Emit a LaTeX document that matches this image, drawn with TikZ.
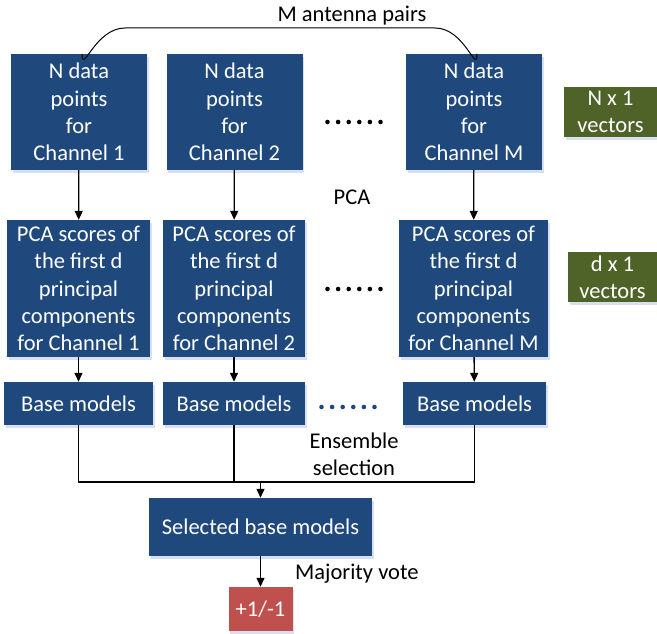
\documentclass[tikz,border=0pt]{standalone}
\usepackage{fontspec}
\setmainfont{Carlito}
\usepackage{tikz}
\usetikzlibrary{arrows.meta,shadows}
\newdimen\unitsize
\setlength{\unitsize}{1pt}
\definecolor{boxblue}{RGB}{31,73,125}
\definecolor{boxgreen}{RGB}{79,98,40}
\definecolor{boxred}{RGB}{192,80,77}
\definecolor{glow}{RGB}{214,224,240}

\begin{document}
\begin{tikzpicture}[x=\unitsize,y=-\unitsize]
\tikzset{block/.style={fill=boxblue, text=white, align=center, inner sep=0pt,
  font=\fontsize{22.5}{27.4}\selectfont,
  drop shadow={shadow xshift=1.5pt, shadow yshift=-3pt, fill=glow, opacity=1}}}%
\tikzset{tag/.style={block, fill=boxgreen}}%
\tikzset{label/.style={inner sep=0pt, align=center, font=\fontsize{22.5}{27.4}\selectfont}}%
\tikzset{flow/.style={-{Triangle[length=9pt,width=8pt]}, line width=1.3pt}}%
\useasboundingbox (0,0) rectangle (657,634);
% data points
\node[block, minimum width=136, minimum height=116] (d1) at (79,112) {N data\\points\\for\\Channel 1};
\node[block, minimum width=136, minimum height=116] (d2) at (234.5,112) {N data\\points\\for\\Channel 2};
\node[block, minimum width=136, minimum height=116] (dM) at (474,112) {N data\\points\\for\\Channel M};
\node[tag, minimum width=93, minimum height=50] (n1) at (610.5,112) {N x 1\\vectors};
% PCA scores
\node[block, minimum width=143, minimum height=137] (p1) at (78.5,288.5) {PCA scores of\\the first d\\principal\\components\\for Channel 1};
\node[block, minimum width=142, minimum height=137] (p2) at (234,288.5) {PCA scores of\\the first d\\principal\\components\\for Channel 2};
\node[block, minimum width=149, minimum height=137] (pM) at (473.5,288.5) {PCA scores of\\the first d\\principal\\components\\for Channel M};
\node[tag, minimum width=89, minimum height=50] (dv) at (612.5,277) {d x 1\\vectors};
% base models
\node[block, minimum width=149, minimum height=43] (b1) at (78.5,403.5) {Base models};
\node[block, minimum width=142, minimum height=43] (b2) at (234,403.5) {Base models};
\node[block, minimum width=143, minimum height=43] (bM) at (474.5,403.5) {Base models};
\node[block, minimum width=223, minimum height=58] (sel) at (260.5,527) {Selected base models};
\node[block, fill=boxred, minimum width=64, minimum height=44] (vote) at (260.5,609) {+1/-1};
% labels
\node[label] (ant) at (352,16) {M antenna pairs};
\node[label] (pca) at (352,197) {PCA};
\node[label] (ens) at (354,454) {Ensemble\\selection};
\node[label, anchor=west] (maj) at (295,574) {Majority vote};
% dots
\foreach \i in {0,...,5} \fill (327.5+\i*10.6,122) circle (2.3);
\foreach \i in {0,...,5} \fill (327.5+\i*10.6,289) circle (2.3);
\foreach \i in {0,...,5} \fill[boxblue] (321.5+\i*10.6,407) circle (2.3);
% connectors
\draw[line width=1pt] ([xshift=3]d1.north) .. controls ([xshift=3,yshift=-22]d1.north) and (95,28) .. (125,28) -- (435,28) .. controls (465,28) and ([xshift=3,yshift=-22]dM.north) .. ([xshift=3]dM.north);
\draw[flow] (d1) -- (p1);
\draw[flow] (d2) -- (p2);
\draw[flow] (dM) -- (pM);
\draw[flow] (p1) -- (b1);
\draw[flow] (p2) -- (b2);
\draw[flow] (pM) -- (bM);
\coordinate (bus) at (260.5,482);
\draw[line width=1.3pt] (b1) |- (bus);
\draw[line width=1.3pt] (b2) |- (bus);
\draw[line width=1.3pt] (bM) |- (bus);
\draw[flow] (bus) -- (sel);
\draw[flow] (sel) -- (vote);
\end{tikzpicture}
\end{document}
